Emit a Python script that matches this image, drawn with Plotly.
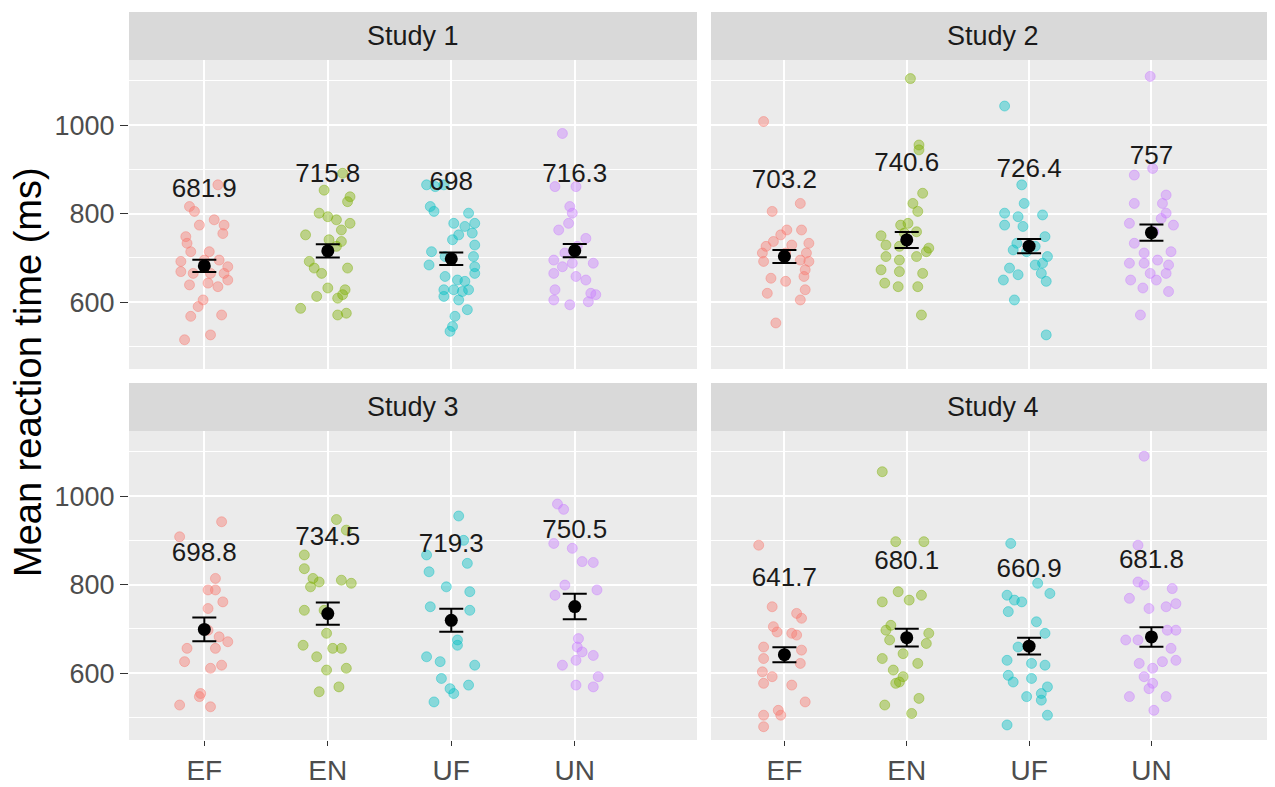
import plotly.graph_objects as go

# ---------------- data ----------------
conditions = ["EF", "EN", "UF", "UN"]
studies = ["Study 1", "Study 2", "Study 3", "Study 4"]

s1_means = [681.9, 715.8, 698, 716.3]
s2_means = [703.2, 740.6, 726.4, 757]
s3_means = [698.8, 734.5, 719.3, 750.5]
s4_means = [641.7, 680.1, 660.9, 681.8]

s1_se = [14, 15, 14, 15]
s2_se = [14.5, 18, 16, 18.5]
s3_se = [27, 25, 26, 29]
s4_se = [17, 20, 19, 22]

# participant mean RTs (ms) and horizontal jitter (category units)
s1_ef = [865, 816, 805, 774, 786, 774, 755, 748, 733, 714, 714, 692, 695, 695, 680, 669, 665, 665, 665, 639, 643, 650, 635, 605, 590, 568, 571, 515, 526]
s1_ef_jit = [0.11, -0.12, -0.08, -0.04, 0.08, 0.16, 0.15, -0.15, -0.14, 0.04, -0.11, -0.19, 0.0, 0.12, 0.19, -0.19, -0.09, 0.05, 0.16, -0.12, 0.03, 0.19, 0.11, -0.01, -0.05, -0.11, 0.14, -0.16, 0.05]
s1_en = [891, 853, 838, 827, 801, 793, 786, 778, 763, 752, 741, 737, 718, 726, 692, 677, 665, 677, 632, 628, 617, 613, 609, 586, 571, 575]
s1_en_jit = [0.12, -0.03, 0.18, 0.16, -0.07, 0.0, 0.07, 0.18, 0.11, -0.18, 0.01, 0.11, 0.0, 0.07, -0.15, -0.11, -0.05, 0.16, 0.0, 0.14, 0.12, -0.09, 0.08, -0.22, 0.08, 0.15]
s1_uf = [865, 861, 865, 816, 805, 801, 778, 771, 778, 752, 756, 741, 729, 714, 703, 703, 680, 684, 665, 658, 650, 647, 628, 628, 624, 628, 613, 605, 583, 568, 545, 534]
s1_uf_jit = [-0.20, -0.13, -0.06, -0.17, -0.14, 0.14, 0.02, 0.11, 0.19, 0.06, 0.17, 0.01, 0.19, -0.16, -0.05, 0.18, 0.19, -0.18, 0.19, -0.05, 0.05, 0.11, -0.06, 0.02, 0.09, 0.14, -0.06, 0.06, 0.13, 0.03, 0.01, -0.01]
s1_un = [981, 861, 861, 816, 801, 778, 763, 744, 726, 711, 695, 688, 688, 680, 665, 658, 650, 628, 620, 617, 605, 594, 601]
s1_un_jit = [-0.10, -0.16, 0.01, -0.04, -0.02, -0.05, -0.13, 0.09, 0.02, -0.08, -0.17, -0.02, 0.15, -0.10, -0.17, 0.01, 0.09, -0.16, 0.13, 0.17, -0.17, -0.04, 0.11]

s2_ef = [1008, 805, 823, 763, 763, 752, 733, 726, 729, 737, 711, 711, 711, 692, 695, 692, 673, 654, 647, 658, 620, 628, 605, 553]
s2_ef_jit = [-0.17, -0.10, 0.13, 0.02, 0.14, -0.03, 0.20, -0.15, 0.06, -0.09, -0.18, 0.01, 0.18, -0.17, 0.13, 0.20, 0.17, -0.11, 0.01, 0.16, -0.14, 0.17, 0.13, -0.07]
s2_en = [1105, 955, 944, 846, 823, 805, 774, 778, 759, 750, 756, 729, 726, 722, 714, 703, 695, 703, 673, 669, 665, 643, 635, 635, 571]
s2_en_jit = [0.03, 0.10, 0.10, 0.13, 0.05, 0.09, -0.05, 0.01, 0.08, -0.21, -0.02, -0.17, -0.06, 0.18, 0.16, -0.17, -0.06, 0.08, -0.21, -0.06, 0.13, -0.18, -0.07, 0.09, 0.12]
s2_uf = [1043, 865, 823, 801, 793, 797, 774, 771, 748, 733, 726, 718, 714, 703, 684, 688, 677, 662, 665, 650, 647, 605, 526]
s2_uf_jit = [-0.20, -0.06, -0.04, -0.20, -0.09, 0.11, -0.20, -0.05, 0.13, -0.10, 0.05, -0.13, -0.02, 0.15, 0.05, 0.11, -0.16, -0.09, 0.10, -0.21, 0.14, -0.12, 0.14]
s2_un = [1110, 887, 902, 823, 842, 823, 801, 789, 778, 774, 759, 733, 711, 714, 688, 688, 695, 684, 665, 665, 650, 650, 632, 624, 571]
s2_un_jit = [-0.01, -0.14, 0.01, -0.14, 0.12, 0.09, 0.12, 0.08, -0.18, 0.18, 0.02, -0.14, -0.06, 0.16, -0.18, -0.06, 0.05, 0.14, 0.12, -0.01, -0.17, 0.04, -0.07, 0.14, -0.09]

s3_ef = [942, 908, 814, 788, 788, 761, 746, 697, 682, 671, 656, 656, 626, 611, 618, 554, 547, 528, 524]
s3_ef_jit = [0.14, -0.20, 0.09, 0.03, 0.09, 0.15, 0.03, 0.03, 0.12, 0.19, 0.09, -0.14, -0.16, 0.05, 0.14, -0.03, -0.04, -0.20, 0.05]
s3_en = [947, 923, 867, 836, 814, 806, 795, 810, 803, 742, 742, 690, 663, 656, 656, 637, 607, 611, 569, 558]
s3_en_jit = [0.07, 0.15, -0.19, -0.19, -0.12, -0.07, -0.14, 0.11, 0.19, -0.19, -0.03, -0.01, -0.20, 0.04, 0.11, -0.09, -0.01, 0.15, 0.09, -0.07]
s3_uf = [955, 900, 867, 848, 829, 795, 784, 750, 742, 675, 663, 637, 626, 618, 588, 565, 573, 554, 535]
s3_uf_jit = [0.06, 0.10, -0.20, 0.13, -0.18, -0.04, 0.15, -0.17, 0.15, 0.05, 0.05, -0.20, -0.09, 0.19, -0.08, -0.01, 0.14, 0.02, -0.14]
s3_un = [982, 970, 893, 882, 852, 850, 799, 788, 776, 678, 659, 648, 640, 629, 618, 592, 573, 569]
s3_un_jit = [-0.14, -0.09, -0.17, -0.02, 0.06, 0.15, -0.08, 0.18, -0.16, 0.03, 0.02, 0.06, 0.15, 0.01, -0.10, 0.19, 0.01, 0.15]

s4_ef = [889, 750, 735, 724, 705, 693, 690, 686, 659, 652, 633, 622, 603, 592, 577, 573, 535, 516, 505, 505, 479]
s4_ef_jit = [-0.21, -0.10, 0.10, 0.14, -0.09, -0.06, 0.06, 0.10, -0.17, 0.14, -0.17, 0.13, -0.18, -0.10, -0.17, 0.06, 0.17, -0.05, -0.03, -0.17, -0.17]
s4_en = [1055, 897, 897, 784, 776, 761, 765, 708, 697, 675, 690, 667, 633, 644, 622, 607, 592, 580, 577, 543, 528, 509]
s4_en_jit = [-0.20, -0.09, 0.14, -0.07, 0.12, -0.20, 0.02, -0.13, -0.17, -0.14, 0.18, 0.16, -0.20, -0.03, 0.09, -0.11, -0.03, -0.06, -0.09, 0.10, -0.18, 0.04]
s4_uf = [893, 803, 780, 776, 765, 761, 739, 716, 690, 659, 629, 622, 618, 595, 580, 588, 569, 554, 547, 539, 505, 483]
s4_uf_jit = [-0.15, 0.07, 0.17, -0.18, -0.12, -0.06, -0.17, 0.06, 0.13, -0.09, -0.18, 0.02, 0.13, -0.17, -0.13, 0.02, 0.15, 0.10, -0.02, 0.10, 0.15, -0.18]
s4_un = [1090, 889, 806, 799, 791, 769, 746, 750, 757, 697, 697, 675, 675, 656, 626, 629, 622, 611, 592, 577, 565, 547, 547, 516]
s4_un_jit = [-0.06, -0.11, -0.11, -0.06, 0.17, -0.18, -0.02, 0.12, 0.20, 0.13, 0.20, -0.21, -0.11, 0.16, 0.09, 0.20, -0.10, 0.01, -0.06, 0.01, -0.02, -0.18, 0.12, 0.02]

# ---------------- styling ----------------
fills = ["rgba(248,118,109,0.42)", "rgba(124,174,0,0.42)", "rgba(0,191,196,0.42)", "rgba(199,124,255,0.42)"]
LABEL_OFFSET = 170
FONT = "Liberation Sans, Arial, sans-serif"
OFF = 8                     # the page body has an 8px margin
W, H = 1275 - OFF, 787 - OFF  # figure size so that it fills the window

study_points = [
    [(s1_ef, s1_ef_jit), (s1_en, s1_en_jit), (s1_uf, s1_uf_jit), (s1_un, s1_un_jit)],
    [(s2_ef, s2_ef_jit), (s2_en, s2_en_jit), (s2_uf, s2_uf_jit), (s2_un, s2_un_jit)],
    [(s3_ef, s3_ef_jit), (s3_en, s3_en_jit), (s3_uf, s3_uf_jit), (s3_un, s3_un_jit)],
    [(s4_ef, s4_ef_jit), (s4_en, s4_en_jit), (s4_uf, s4_uf_jit), (s4_un, s4_un_jit)],
]
study_means = [s1_means, s2_means, s3_means, s4_means]
study_se = [s1_se, s2_se, s3_se, s4_se]

# panel boxes in window pixels (left, right, top, bottom)
panels = [(129, 697, 60, 369), (711, 1275, 60, 369), (129, 697, 431, 740), (711, 1275, 431, 740)]
strip_h = 48


def px(v):
    return (v - OFF) / W


def py(v):
    return 1 - (v - OFF) / H


fig = go.Figure()
layout = dict(
    width=W, height=H, autosize=False,
    margin=dict(l=0, r=0, t=0, b=0, pad=0),
    paper_bgcolor="white", plot_bgcolor="#EBEBEB",
    showlegend=False, font=dict(family=FONT),
)
shapes, annotations = [], []
pos = [1, 2, 3, 4]

for i in range(4):
    xa = "x" if i == 0 else f"x{i+1}"
    ya = "y" if i == 0 else f"y{i+1}"
    L, R, T, B = panels[i]
    bottom_row = i >= 2
    left_col = i % 2 == 0
    xr = [0.39, 4.99] if left_col else [0.40, 5.01]

    for c in range(4):
        vals, jit = study_points[i][c]
        fig.add_trace(go.Scatter(
            x=[pos[c] + j for j in jit], y=vals, mode="markers",
            marker=dict(size=10, color=fills[c], line=dict(width=1, color=fills[c])),
            xaxis=xa, yaxis=ya, hoverinfo="skip"))

    fig.add_trace(go.Scatter(
        x=pos, y=study_means[i], mode="markers",
        marker=dict(size=13, color="black"),
        error_y=dict(type="data", array=study_se[i], color="black", thickness=2, width=12),
        xaxis=xa, yaxis=ya))
    fig.add_trace(go.Scatter(
        x=pos, y=[m + LABEL_OFFSET for m in study_means[i]], mode="text",
        text=[f"{m:g}" for m in study_means[i]],
        textfont=dict(size=26, color="#1A1A1A", family=FONT),
        xaxis=xa, yaxis=ya, cliponaxis=False))

    xkey = "xaxis" if i == 0 else f"xaxis{i+1}"
    ykey = "yaxis" if i == 0 else f"yaxis{i+1}"
    layout[xkey] = dict(
        domain=[px(L), min(px(R), 1.0)], anchor=ya, range=xr,
        tickvals=pos, ticktext=conditions, showticklabels=bottom_row,
        ticks="outside" if bottom_row else "", ticklen=5, tickwidth=1.2, tickcolor="#333333",
        tickfont=dict(size=28, color="#4D4D4D", family=FONT),
        showgrid=True, gridcolor="white", gridwidth=2, zeroline=False, showline=False,
        fixedrange=True)
    layout[ykey] = dict(
        domain=[py(B), py(T)], anchor=xa, range=[449, 1147],
        tickvals=[600, 800, 1000], showticklabels=left_col,
        ticks="outside" if left_col else "", ticklen=8, tickwidth=1.2, tickcolor="#333333",
        tickfont=dict(size=27, color="#4D4D4D", family=FONT),
        showgrid=True, gridcolor="white", gridwidth=2, zeroline=False, showline=False,
        minor=dict(tickvals=[500, 700, 900, 1100], showgrid=True, gridcolor="white", gridwidth=1.4, ticks=""),
        fixedrange=True)

    shapes.append(dict(type="rect", xref="paper", yref="paper",
                       x0=px(L), x1=min(px(R), 1.0), y0=py(T), y1=py(T - strip_h),
                       fillcolor="#D9D9D9", line=dict(width=0), layer="below"))
    annotations.append(dict(text=studies[i], xref="paper", yref="paper",
                            x=px((L + R) / 2), y=py(T - strip_h / 2),
                            showarrow=False, xanchor="center", yanchor="middle",
                            font=dict(size=27, color="#1A1A1A", family=FONT)))

annotations.append(dict(text="Mean reaction time (ms)", xref="paper", yref="paper",
                        x=px(28), y=py(372), textangle=-90, showarrow=False,
                        xanchor="center", yanchor="middle",
                        font=dict(size=38, color="black", family=FONT)))

layout["shapes"] = shapes
layout["annotations"] = annotations
fig.update_layout(**layout)
fig.write_html("out.html")
